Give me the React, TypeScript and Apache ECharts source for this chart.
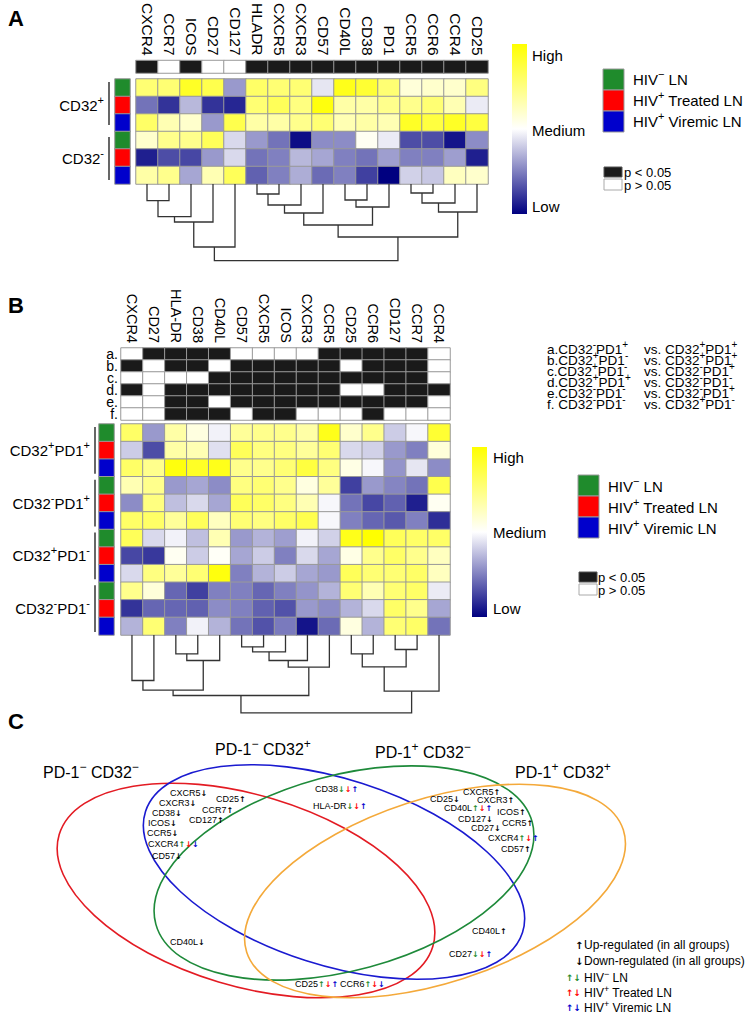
import React, { useEffect, useRef } from 'react';
import * as echarts from 'echarts';

const FONT = 'Liberation Sans, Arial, Helvetica, sans-serif';
const ARROW_FONT = 'DejaVu Sans, Liberation Sans, sans-serif';

// ---------- Panel A data ----------
const markersA = ['CXCR4', 'CCR7', 'ICOS', 'CD27', 'CD127', 'HLADR', 'CXCR5', 'CXCR3', 'CD57', 'CD40L', 'CD38', 'PD1', 'CCR5', 'CCR6', 'CCR4', 'CD25'];
const rowsA = ['CD32+ HIV- LN', 'CD32+ HIV+ Treated LN', 'CD32+ HIV+ Viremic LN', 'CD32- HIV- LN', 'CD32- HIV+ Treated LN', 'CD32- HIV+ Viremic LN'];
const groupCodesA = [2, 3, 4, 2, 3, 4];
const sigA = [1, 0, 1, 0, 0, 1, 1, 1, 1, 1, 1, 1, 1, 1, 1, 1];
const valuesA = [
  [0.55, 0.55, 0.85, 0.7, -0.4, 0.6, 0.55, 0.55, -0.1, 0.9, 0.8, 0.55, 0.15, 0.2, 0.2, 0.5],
  [-0.55, -0.8, -0.28, -0.8, -0.85, 0.55, 0.65, 0.5, 0.95, 0.35, 0.35, 0.45, 0.45, 0.55, 0.3, -0.08],
  [0.6, 0.3, 0.2, -0.4, 0.7, 0.35, 0.35, 0.45, 0.55, 0.3, 0.35, 0.3, 0.85, 0.75, 0.85, 0.75],
  [0.2, 0.45, 0.45, 0.65, -0.15, -0.4, -0.55, -0.95, -0.45, -0.45, 0.05, -0.08, -0.7, -0.7, -0.92, -0.45],
  [-0.88, -0.7, -0.72, -0.4, -0.15, -0.55, -0.5, -0.28, -0.35, -0.5, -0.55, -0.38, -0.5, -0.5, -0.38, -0.88],
  [0.35, 0.45, -0.35, 0.3, 0.65, -0.62, -0.5, -0.32, -0.58, -0.5, -0.75, -1.0, -0.18, -0.22, 0.25, 0.2],
];
// linkage: [childA, childB, height]; leaves 0..n-1, merge k creates node n+k
const linkA = [
  [0, 1, 16.7], [16, 2, 32.7], [17, 3, 38], [18, 4, 63],
  [5, 6, 10], [20, 7, 21], [21, 8, 29],
  [9, 10, 16], [23, 11, 23], [22, 24, 41],
  [12, 13, 9], [26, 14, 19], [27, 15, 28],
  [25, 28, 53], [19, 29, 76.7],
];

// ---------- Panel B data ----------
const markersB = ['CXCR4', 'CD27', 'HLA-DR', 'CD38', 'CD40L', 'CD57', 'CXCR5', 'ICOS', 'CXCR3', 'CCR5', 'CD25', 'CCR6', 'CD127', 'CCR7', 'CCR4'];
const rowsB = [
  'CD32+PD1+ HIV-', 'CD32+PD1+ Treated', 'CD32+PD1+ Viremic',
  'CD32-PD1+ HIV-', 'CD32-PD1+ Treated', 'CD32-PD1+ Viremic',
  'CD32+PD1- HIV-', 'CD32+PD1- Treated', 'CD32+PD1- Viremic',
  'CD32-PD1- HIV-', 'CD32-PD1- Treated', 'CD32-PD1- Viremic',
];
const groupCodesB = [2, 3, 4, 2, 3, 4, 2, 3, 4, 2, 3, 4];
const compLabels = ['a.', 'b.', 'c.', 'd.', 'e.', 'f.'];
const sigB = [
  [0, 1, 1, 1, 1, 0, 0, 0, 0, 1, 1, 1, 1, 1, 0],
  [1, 0, 1, 1, 0, 1, 1, 1, 1, 1, 0, 1, 1, 1, 0],
  [0, 0, 0, 0, 1, 1, 1, 1, 1, 1, 1, 1, 1, 1, 0],
  [1, 0, 1, 1, 1, 1, 1, 1, 1, 1, 0, 0, 1, 1, 1],
  [0, 0, 1, 1, 0, 1, 1, 1, 1, 1, 1, 1, 1, 1, 0],
  [0, 0, 1, 1, 1, 0, 1, 1, 0, 0, 0, 1, 0, 0, 0],
];
const valuesB = [
  [0.6, -0.4, 0.35, 0.12, -0.05, 0.4, 0.45, 0.45, 0.35, 0.9, 0.2, 0.45, -0.2, -0.03, 0.8],
  [-0.2, -0.7, 0.35, 0.3, -0.12, 0.65, 0.5, 0.5, 0.4, 0.55, -0.15, -0.18, -0.4, -0.5, 0.15],
  [0.6, 0.45, 0.95, 0.85, 0.9, 0.45, 0.45, 0.55, 0.75, 0.5, 0.1, -0.03, -0.42, -0.1, -0.45],
  [0.3, 0.45, -0.4, -0.35, -0.45, 0.5, 0.55, 0.45, 0.12, 0.4, -0.75, -0.4, -0.48, -0.55, 0.7],
  [-0.45, 0.5, -0.25, -0.15, -0.35, 0.65, 0.6, 0.5, 0.3, -0.03, -0.55, -0.72, -0.62, -0.88, 0.05],
  [0.6, 0.6, 0.4, 0.65, 0.25, 0.55, 0.5, 0.6, 0.7, -0.03, -0.5, -0.6, -0.65, -0.5, -0.82],
  [0.65, -0.15, -0.05, -0.25, 0.3, -0.4, -0.3, -0.38, -0.05, -0.18, 0.9, 1.0, 0.65, 0.6, 0.6],
  [-0.72, -0.78, 0.05, -0.2, 0.03, -0.35, -0.2, -0.5, -0.15, -0.35, 0.1, 0.45, 0.6, 0.45, 0.25],
  [-0.15, 0.5, 0.4, 0.55, 0.95, -0.5, -0.3, -0.2, -0.35, -0.4, 0.65, 0.55, 0.55, 0.6, 0.25],
  [0.45, 0.15, -0.6, -0.75, -0.5, -0.5, -0.6, -0.5, -0.42, -0.3, 0.55, 0.3, 0.55, 0.6, -0.08],
  [-0.8, -0.6, -0.6, -0.62, -0.45, -0.5, -0.62, -0.68, -0.4, -0.45, -0.3, -0.15, 0.6, 0.45, -0.35],
  [-0.3, 0.55, -0.5, -0.05, -0.3, -0.55, -0.68, -0.52, -0.92, -0.58, 0.12, -0.3, 0.55, 0.6, -0.55],
];
const linkB = [
  [2, 3, 18.8], [15, 4, 25.5], [0, 1, 45.5], [17, 16, 55.2],
  [5, 6, 11.8], [19, 7, 16.8], [20, 8, 25.5], [21, 9, 32.2],
  [18, 22, 60.5],
  [10, 11, 18.8], [12, 13, 14.5], [24, 25, 31.8], [26, 14, 56.2],
  [23, 27, 77.8],
];
const comparisons = [
  ['a.CD32{s|-}PD1{s|+}', 'vs. CD32{s|+}PD1{s|+}'],
  ['b.CD32{s|+}PD1{s|-}', 'vs. CD32{s|+}PD1{s|+}'],
  ['c.CD32{s|+}PD1{s|-}', 'vs. CD32{s|-}PD1{s|+}'],
  ['d.CD32{s|+}PD1{s|+}', 'vs. CD32{s|-}PD1{s|-}'],
  ['e.CD32{s|-}PD1{s|-}', 'vs. CD32{s|-}PD1{s|+}'],
  ['f. CD32{s|-}PD1{s|-}', 'vs. CD32{s|+}PD1{s|-}'],
];

// ---------- Panel C data ----------
const vennSets = ['PD-1{s|−} CD32{s|−}', 'PD-1{s|−} CD32{s|+}', 'PD-1{s|+} CD32{s|−}', 'PD-1{s|+} CD32{s|+}'];
// [marker, arrows (u/d black single, 3 letters = green/red/blue)]
const vennMarkers = [
  ['CXCR5', 'd'], ['CXCR3', 'd'], ['CD38', 'd'], ['ICOS', 'd'], ['CCR5', 'd'], ['CXCR4', 'udd'], ['CD57', 'd'],
  ['CD25', 'u'], ['CCR7', 'u'], ['CD127', 'u'],
  ['CD38', 'ddu'], ['HLA-DR', 'ddu'],
  ['CXCR5', 'u'], ['CD25', 'd'], ['CXCR3', 'u'], ['CD40L', 'udu'], ['ICOS', 'u'], ['CD127', 'd'], ['CCR5', 'u'], ['CD27', 'd'], ['CXCR4', 'udu'], ['CD57', 'u'],
  ['CD40L', 'd'], ['CD40L', 'u'], ['CD27', 'ddu'], ['CD25', 'udu'], ['CCR6', 'udd'],
];

// ---------- layout (positions / styles) ----------
const GROUP_COLORS = { green: '#1f8b2c', red: '#ff0000', blue: '#0000cc' };
const vennLayout = [
  { cx: 246, cy: 890.5, rx: 195, ry: 95.5, angle: -16.7, color: '#e31b23' },
  { cx: 334, cy: 872, rx: 198, ry: 93, angle: -17.8, color: '#1a1ad0' },
  { cx: 344, cy: 873, rx: 195, ry: 97.5, angle: 15.2, color: '#1e8a3a' },
  { cx: 435, cy: 891, rx: 198, ry: 92, angle: 18, color: '#f4a93a' },
];
const vennTitlePos = [[43, 772], [215, 749], [375, 752], [515, 772]];
const vennMarkerPos = [
  [170, 793], [159, 803], [152, 813], [148, 823], [147, 833], [148, 844], [152, 856],
  [216, 799], [202, 810], [189, 820],
  [315, 789], [313, 806],
  [463, 792], [430, 799], [477, 800], [444, 808], [497, 812], [458, 819], [502, 823], [471, 828], [488, 838], [501, 849],
  [170, 942], [472, 931], [449, 954], [295, 984], [340, 984],
];

function buildDendro(link: number[][], n: number) {
  const xs: number[] = [];
  const hs: number[] = [];
  for (let i = 0; i < n; i++) { xs.push(i); hs.push(0); }
  const segs: number[][] = [];
  link.forEach(([a, b, h]) => {
    segs.push([xs[a], hs[a], xs[b], hs[b], h]);
    xs.push((xs[a] + xs[b]) / 2);
    hs.push(h);
  });
  return segs;
}

function heatData(values: number[][]) {
  const out: number[][] = [];
  values.forEach((row, r) => row.forEach((v, c) => out.push([c, r, v])));
  return out;
}

function supRich(size: number) {
  const s = Math.round(size * 0.72);
  const a = Math.max(7, Math.round(size * 0.85));
  return {
    s: { fontSize: s, fontFamily: FONT, fill: '#000', lineHeight: s, verticalAlign: 'top' },
    g: { fontSize: a, fontFamily: ARROW_FONT, fill: GROUP_COLORS.green, fontWeight: 'bold' },
    r: { fontSize: a, fontFamily: ARROW_FONT, fill: GROUP_COLORS.red, fontWeight: 'bold' },
    b: { fontSize: a, fontFamily: ARROW_FONT, fill: GROUP_COLORS.blue, fontWeight: 'bold' },
    k: { fontSize: a, fontFamily: ARROW_FONT, fill: '#000', fontWeight: 'bold' },
  };
}

function txt(text: string, x: number, y: number, size: number, align = 'left', weight = 'normal') {
  return {
    type: 'text', x, y, silent: true,
    style: {
      text, fontSize: size, fontFamily: FONT, fontWeight: weight, fill: '#000',
      lineHeight: Math.round(size * 1.45), align, verticalAlign: 'middle', rich: supRich(size),
    },
  };
}

function rect(x: number, y: number, w: number, h: number, fill: any, stroke = '#999') {
  return { type: 'rect', silent: true, shape: { x, y, width: w, height: h }, style: { fill, stroke, lineWidth: 1 } };
}

function vline(x: number, y1: number, y2: number) {
  return { type: 'line', silent: true, shape: { x1: x, y1, x2: x, y2 }, style: { stroke: '#000', lineWidth: 1.2 } };
}

function arrowsRich(spec: string) {
  if (spec.length === 1) return `{k|${spec === 'u' ? '↑' : '↓'}}`;
  const keys = ['g', 'r', 'b'];
  return spec.split('').map((c, i) => `{${keys[i]}|${c === 'u' ? '↑' : '↓'}}`).join('');
}

function colorBar(x: number, y: number, h: number) {
  return {
    type: 'rect', silent: true, shape: { x, y, width: 15, height: h },
    style: {
      fill: new echarts.graphic.LinearGradient(0, 0, 0, 1, [
        { offset: 0, color: '#ffff00' },
        { offset: 0.5, color: '#ffffff' },
        { offset: 1, color: '#000080' },
      ]),
    },
  };
}

export default function App() {
  const ref = useRef<HTMLDivElement>(null);
  useEffect(() => {
    document.body.style.margin = '0';
    const chart = echarts.init(ref.current!, null, { renderer: 'svg' });

    const dendA = buildDendro(linkA, markersA.length);
    const dendB = buildDendro(linkB, markersB.length);

    const hidden = { show: false };
    const topLabels = (data: string[], size: number) => ({
      type: 'category', data, position: 'top',
      axisLine: { show: false }, axisTick: { show: false }, splitLine: { show: false },
      axisLabel: { rotate: 90, fontSize: size, fontFamily: FONT, color: '#000', margin: 5, interval: 0 },
    });

    const heat = (xi: number, data: number[][]) => ({
      type: 'heatmap', xAxisIndex: xi, yAxisIndex: xi, data,
      itemStyle: { borderColor: '#999', borderWidth: 1 },
      emphasis: { disabled: true }, silent: true,
    });

    const dendro = (xi: number, data: number[][]) => ({
      type: 'custom', xAxisIndex: xi, yAxisIndex: xi, data, silent: true,
      renderItem: (_p: any, api: any) => {
        const p1 = api.coord([api.value(0), api.value(1)]);
        const p2 = api.coord([api.value(0), api.value(4)]);
        const p3 = api.coord([api.value(2), api.value(4)]);
        const p4 = api.coord([api.value(2), api.value(3)]);
        return {
          type: 'polyline', shape: { points: [p1, p2, p3, p4] },
          style: { stroke: '#333', lineWidth: 1.3, fill: 'none' },
        };
      },
    });

    const graphics: any[] = [];
    // panel letters
    graphics.push(txt('A', 8, 18, 22, 'left', 'bold'));
    graphics.push(txt('B', 8, 305, 22, 'left', 'bold'));
    graphics.push(txt('C', 8, 721, 22, 'left', 'bold'));

    // Panel A row group labels + brackets
    graphics.push(txt('CD32{s|+}', 104, 105, 15, 'right'));
    graphics.push(txt('CD32{s|-}', 104, 158, 15, 'right'));
    graphics.push(vline(109, 82, 125));
    graphics.push(vline(109, 137, 180));

    // Panel A legend
    graphics.push(colorBar(512, 44, 170));
    graphics.push(txt('High', 532, 55, 15));
    graphics.push(txt('Medium', 532, 130, 15));
    graphics.push(txt('Low', 532, 206, 15));
    const legendNames = ['HIV{s|−} LN', 'HIV{s|+} Treated LN', 'HIV{s|+} Viremic LN'];
    const legendColors = [GROUP_COLORS.green, GROUP_COLORS.red, GROUP_COLORS.blue];
    legendNames.forEach((n, i) => {
      graphics.push(rect(603, 69 + i * 21, 21, 21, legendColors[i]));
      graphics.push(txt(n, 633, 79.5 + i * 21, 15));
    });
    graphics.push(rect(604, 167, 18, 10, '#1a1a1a', '#555'));
    graphics.push(rect(604, 179, 18, 11, '#ffffff', '#aaa'));
    graphics.push(txt('p < 0.05', 624, 172, 13));
    graphics.push(txt('p > 0.05', 624, 185, 13));

    // Panel B row group labels + brackets
    const groupLabelsB = ['CD32{s|+}PD1{s|+}', 'CD32{s|-}PD1{s|+}', 'CD32{s|+}PD1{s|-}', 'CD32{s|-}PD1{s|-}'];
    const rowH = 211 / 12;
    groupLabelsB.forEach((g, i) => {
      const top = 424 + i * 3 * rowH;
      graphics.push(txt(g, 90, top + 1.5 * rowH, 15, 'right'));
      graphics.push(vline(95, top + 3, top + 3 * rowH - 3));
    });

    // comparisons
    comparisons.forEach(([l, r], i) => {
      graphics.push(txt(l, 547, 349 + i * 11, 13.5));
      graphics.push(txt(r, 644, 349 + i * 11, 13.5));
    });

    // Panel B legend
    graphics.push(colorBar(472, 447, 170));
    graphics.push(txt('High', 493, 457, 15));
    graphics.push(txt('Medium', 493, 532, 15));
    graphics.push(txt('Low', 493, 608, 15));
    legendNames.forEach((n, i) => {
      graphics.push(rect(578, 475 + i * 21, 21, 21, legendColors[i]));
      graphics.push(txt(n, 608, 486 + i * 21, 15));
    });
    graphics.push(rect(579, 572, 18, 10, '#1a1a1a', '#555'));
    graphics.push(rect(579, 584, 18, 11, '#ffffff', '#aaa'));
    graphics.push(txt('p < 0.05', 598, 577, 13));
    graphics.push(txt('p > 0.05', 598, 590, 13));

    // Panel C Venn
    vennLayout.forEach((e) => {
      graphics.push({
        type: 'ellipse', silent: true, x: e.cx, y: e.cy, rotation: (e.angle * Math.PI) / 180,
        shape: { cx: 0, cy: 0, rx: e.rx, ry: e.ry },
        style: { fill: 'none', stroke: e.color, lineWidth: 1.6 },
      });
    });
    vennSets.forEach((s, i) => graphics.push(txt(s, vennTitlePos[i][0], vennTitlePos[i][1], 16)));
    vennMarkers.forEach(([m, a], i) => {
      graphics.push(txt(m + arrowsRich(a), vennMarkerPos[i][0], vennMarkerPos[i][1], 9));
    });
    // Panel C legend
    graphics.push(txt('{k|↑}', 575, 945, 12));
    graphics.push(txt('Up-regulated (in all groups)', 584, 945, 12));
    graphics.push(txt('{k|↓}', 575, 961, 12));
    graphics.push(txt('Down-regulated (in all groups)', 584, 961, 12));
    const cKeys = ['g', 'r', 'b'];
    legendNames.forEach((n, i) => {
      graphics.push(txt(`{${cKeys[i]}|↑↓}`, 566, 978 + i * 15, 11));
      graphics.push(txt(n, 584, 978 + i * 15, 12));
    });

    const option: any = {
      animation: false,
      textStyle: { fontFamily: FONT },
      grid: [
        { left: 136, top: 79, width: 352, height: 105 },
        { left: 115, top: 79, width: 15, height: 105 },
        { left: 136, top: 60, width: 352, height: 13 },
        { left: 136, top: 184, width: 352, height: 80 },
        { left: 121, top: 424, width: 329, height: 211 },
        { left: 99, top: 424, width: 15, height: 211 },
        { left: 121, top: 348, width: 329, height: 72 },
        { left: 121, top: 635, width: 329, height: 80 },
      ],
      xAxis: [
        { type: 'category', data: markersA, gridIndex: 0, ...hidden },
        { type: 'category', data: ['group'], gridIndex: 1, ...hidden },
        { ...topLabels(markersA, 15.5), gridIndex: 2 },
        { type: 'value', min: -0.5, max: markersA.length - 0.5, gridIndex: 3, ...hidden },
        { type: 'category', data: markersB, gridIndex: 4, ...hidden },
        { type: 'category', data: ['group'], gridIndex: 5, ...hidden },
        { ...topLabels(markersB, 14.5), gridIndex: 6 },
        { type: 'value', min: -0.5, max: markersB.length - 0.5, gridIndex: 7, ...hidden },
      ],
      yAxis: [
        { type: 'category', data: rowsA, inverse: true, gridIndex: 0, ...hidden },
        { type: 'category', data: rowsA, inverse: true, gridIndex: 1, ...hidden },
        { type: 'category', data: ['p'], gridIndex: 2, ...hidden },
        { type: 'value', min: 0, max: 80, inverse: true, gridIndex: 3, ...hidden },
        { type: 'category', data: rowsB, inverse: true, gridIndex: 4, ...hidden },
        { type: 'category', data: rowsB, inverse: true, gridIndex: 5, ...hidden },
        {
          type: 'category', data: compLabels, inverse: true, gridIndex: 6,
          axisLine: { show: false }, axisTick: { show: false }, splitLine: { show: false },
          axisLabel: { fontSize: 14, fontFamily: FONT, color: '#000', margin: 3, interval: 0, lineHeight: 12 },
        },
        { type: 'value', min: 0, max: 80, inverse: true, gridIndex: 7, ...hidden },
      ],
      visualMap: [
        {
          type: 'continuous', min: -1, max: 1, seriesIndex: [0, 4], show: false,
          inRange: { color: ['#000080', '#ffffff', '#ffff00'] },
        },
        {
          type: 'piecewise', seriesIndex: [1, 2, 5, 6], show: false,
          pieces: [
            { value: 0, color: '#ffffff' },
            { value: 1, color: '#1a1a1a' },
            { value: 2, color: GROUP_COLORS.green },
            { value: 3, color: GROUP_COLORS.red },
            { value: 4, color: GROUP_COLORS.blue },
          ],
        },
      ],
      series: [
        heat(0, heatData(valuesA)),
        heat(1, groupCodesA.map((g, r) => [0, r, g])),
        heat(2, sigA.map((s, c) => [c, 0, s])),
        dendro(3, dendA),
        heat(4, heatData(valuesB)),
        heat(5, groupCodesB.map((g, r) => [0, r, g])),
        heat(6, heatData(sigB)),
        dendro(7, dendB),
      ],
      graphic: graphics,
    };
    chart.setOption(option);
    return () => chart.dispose();
  }, []);
  return <div ref={ref} style={{ width: 750, height: 1018 }} />;
}
